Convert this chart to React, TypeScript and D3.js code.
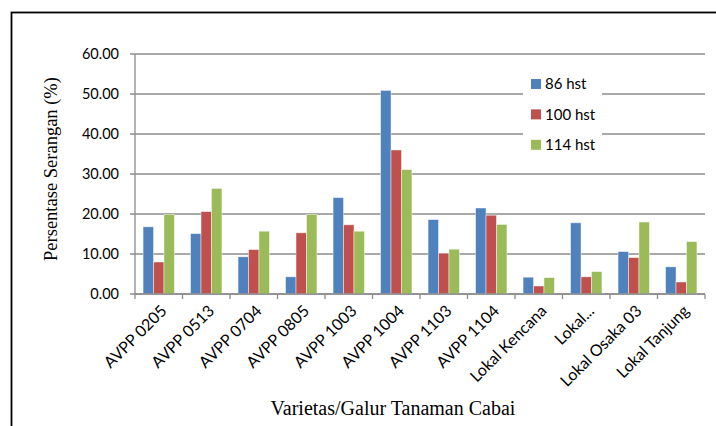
import React from 'react';
import * as d3 from 'd3';

const categories = ['AVPP 0205', 'AVPP 0513', 'AVPP 0704', 'AVPP 0805', 'AVPP 1003', 'AVPP 1004', 'AVPP 1103', 'AVPP 1104', 'Lokal Kencana', 'Lokal...', 'Lokal Osaka 03', 'Lokal Tanjung'];
const seriesNames = ['86 hst', '100 hst', '114 hst'];
const hst86 = [16.8, 15.1, 9.3, 4.3, 24.1, 50.9, 18.6, 21.5, 4.2, 17.8, 10.6, 6.8];
const hst100 = [8.0, 20.6, 11.1, 15.3, 17.3, 36.0, 10.2, 19.7, 2.0, 4.3, 9.1, 3.0];
const hst114 = [19.9, 26.4, 15.7, 19.9, 15.7, 31.1, 11.2, 17.4, 4.1, 5.6, 18.0, 13.1];
const yTicks = [0, 10, 20, 30, 40, 50, 60];
const colors = ['#4F81BD', '#C0504D', '#9BBB59'];

const W = 716;
const H = 426;
const left = 135, right = 705, top = 54, bottom = 294;
const sansFont = 'Lato, "Open Sans", sans-serif';
const serifFont = '"Liberation Serif", "Times New Roman", serif';

export default function App() {
  const seriesValues = [hst86, hst100, hst114];

  const x0 = d3.scaleBand<string>().domain(categories).range([left, right]).paddingInner(0.34).paddingOuter(0.17);
  const xEdges = d3.scaleBand<string>().domain(categories).range([left, right]);
  const x1 = d3.scaleBand<string>().domain(seriesNames).range([0, x0.bandwidth()]);
  const y = d3.scaleLinear().domain([0, 60]).range([bottom, top]);

  const tickXs = categories.map(c => xEdges(c) as number).concat([right]);

  return (
    <svg width={W} height={H} style={{ position: 'absolute', left: 0, top: 0, background: '#fff' }}>
      {/* outer frame, runs off the right and bottom edges */}
      <rect x={11.5} y={12.5} width={800} height={500} fill="none" stroke="#000" strokeWidth={1.8} />

      {/* gridlines */}
      {yTicks.map(t => (
        <line key={'g' + t} x1={left - 5} x2={right} y1={y(t)} y2={y(t)} stroke="#8c8c8c" strokeWidth={1.3} />
      ))}

      {/* y axis */}
      <line x1={left} x2={left} y1={top} y2={bottom} stroke="#8c8c8c" strokeWidth={1.3} />
      {yTicks.map(t => (
        <text key={'yl' + t} x={119} y={y(t)} dy="0.35em" textAnchor="end" fontFamily={sansFont} fontSize={14.5} fill="#000">
          {t.toFixed(2)}
        </text>
      ))}

      {/* bars */}
      {categories.map((c, i) => (
        <g key={c} transform={`translate(${x0(c)},0)`}>
          {seriesNames.map((s, j) => {
            const v = seriesValues[j][i];
            return (
              <rect
                key={s}
                x={x1(s)}
                y={y(v)}
                width={x1.bandwidth()}
                height={y(0) - y(v)}
                fill={colors[j]}
                stroke="#ffffff"
                strokeOpacity={0.55}
                strokeWidth={0.8}
              />
            );
          })}
        </g>
      ))}

      {/* x axis */}
      <line x1={left} x2={right} y1={bottom} y2={bottom} stroke="#8c8c8c" strokeWidth={1.3} />
      {tickXs.map((tx, i) => (
        <line key={'xt' + i} x1={tx} x2={tx} y1={bottom} y2={bottom + 5} stroke="#8c8c8c" strokeWidth={1.3} />
      ))}
      {categories.map(c => {
        const cx = (x0(c) as number) + x0.bandwidth() / 2;
        return (
          <text
            key={'xl' + c}
            transform={`translate(${cx + 5},${bottom + 14}) rotate(-45)`}
            textAnchor="end"
            dy="0.35em"
            fontFamily={sansFont}
            fontSize={16}
            fill="#000"
          >
            {c}
          </text>
        );
      })}

      {/* legend */}
      <rect x={523} y={70} width={79} height={90} fill="#fff" />
      {seriesNames.map((s, j) => (
        <g key={'lg' + s} transform={`translate(531,${79 + j * 30.4})`}>
          <rect width={10} height={10} fill={colors[j]} />
          <text x={14} y={5} dy="0.36em" fontFamily={sansFont} fontSize={15} fill="#000">
            {s}
          </text>
        </g>
      ))}

      {/* axis titles */}
      <text
        transform={`translate(57,169) rotate(-90)`}
        textAnchor="middle"
        fontFamily={serifFont}
        fontSize={18.5}
        fill="#000"
      >
        Persentase Serangan (%)
      </text>
      <text x={393} y={415} textAnchor="middle" fontFamily={serifFont} fontSize={20} fill="#000">
        Varietas/Galur Tanaman Cabai
      </text>
    </svg>
  );
}
